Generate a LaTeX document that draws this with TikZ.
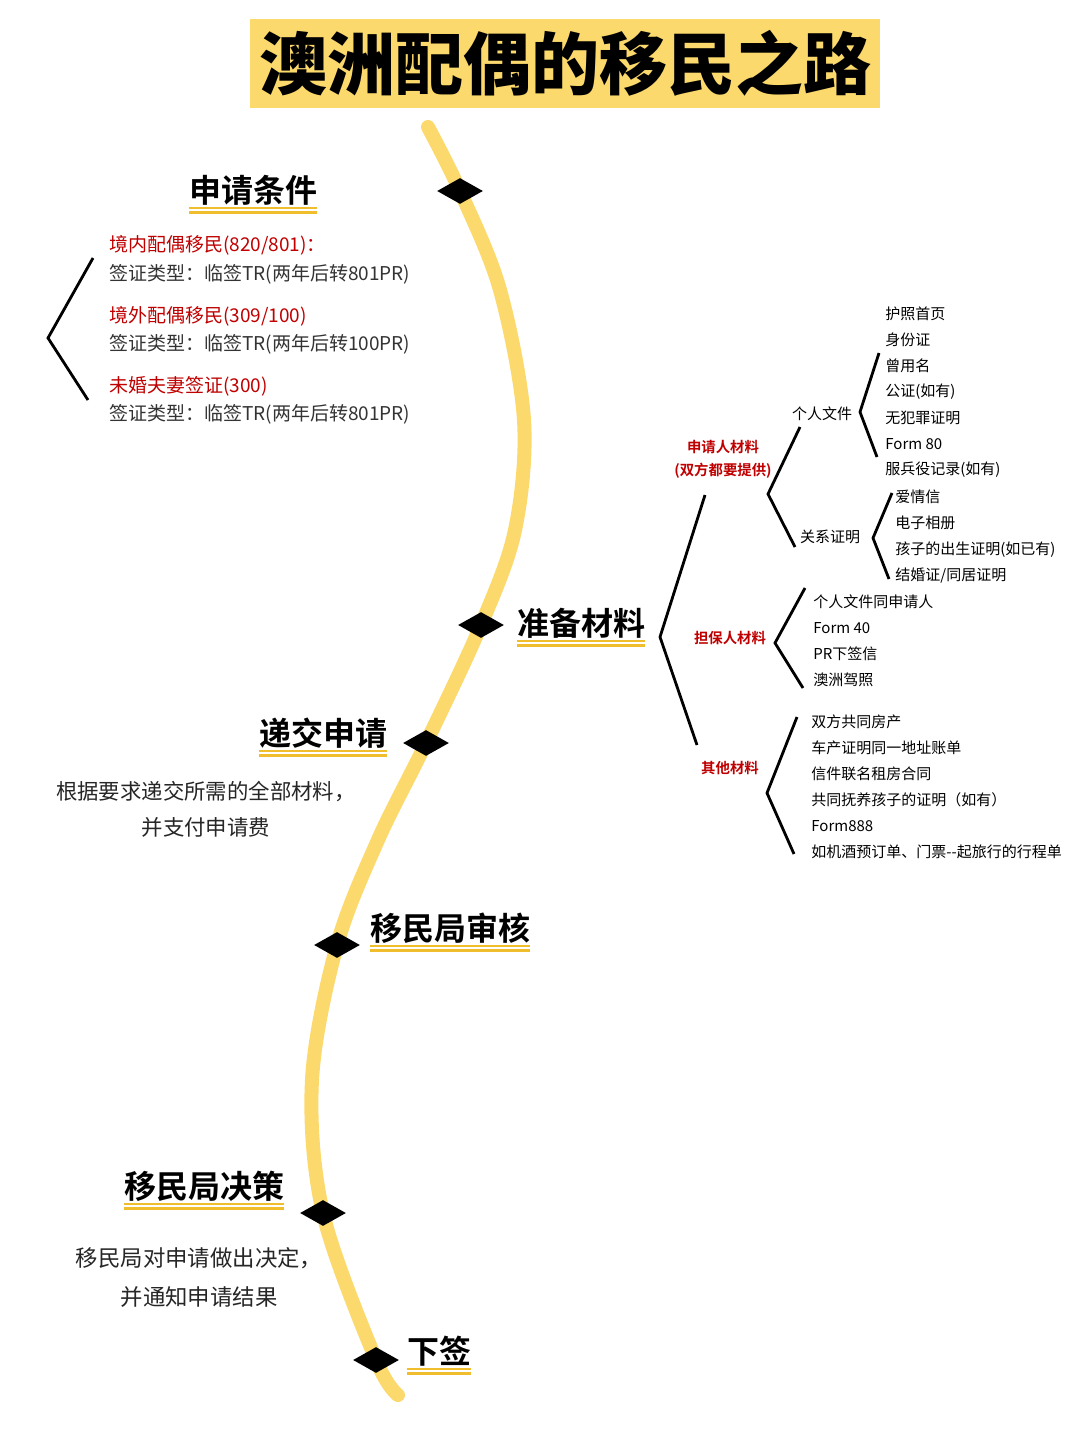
\documentclass[tikz,border=0pt]{standalone}
\usepackage{fontspec}
\setmainfont{Noto Sans CJK SC}[BoldFont={Noto Sans CJK SC Bold}]
\newfontfamily\titlefont{Noto Sans CJK SC Black}
\usepackage{tikz}
\usetikzlibrary{shapes.geometric,calc,positioning}
\definecolor{roadyel}{HTML}{FCD96C}
\definecolor{lineyel}{HTML}{F0BE2C}
\definecolor{visared}{HTML}{C00000}
\definecolor{txtgray}{HTML}{333333}

\begin{document}
\begin{tikzpicture}[x=0.5pt,y=-0.5pt,
    head/.style={font=\bfseries\fontsize{16}{16}\selectfont, inner sep=0pt},
    uline/.style={draw=lineyel, line width=1.2pt, double=white, double distance=1.1pt},
    dia/.style={diamond, fill=black, minimum width=23pt, minimum height=13pt, inner sep=0pt},
    brk/.style={line width=1.4pt},
    cond/.style={anchor=west, inner sep=0pt, text=visared, font=\fontsize{9.5}{9.5}\selectfont},
    visa/.style={anchor=west, inner sep=0pt, text=txtgray, font=\fontsize{9.5}{9.5}\selectfont},
    body/.style={align=center, inner sep=0pt, text=black!85},
    lab/.style={inner sep=0pt, text=visared, font=\bfseries\fontsize{7.2}{11.5}\selectfont, align=center},
    sub/.style={inner sep=0pt, font=\fontsize{7.5}{7.5}\selectfont},
    item/.style={anchor=west, inner sep=0pt, font=\fontsize{7.5}{7.5}\selectfont}]

    % page and title
    \useasboundingbox[fill=white] (0,0) rectangle (1080,1440);
    \node[fill=roadyel, minimum width=315pt, minimum height=44.5pt, inner sep=0pt,
          font=\titlefont\fontsize{34}{34}\selectfont] (TTL) at (565,63.5) {澳洲配偶的移民之路};

    % the road
    \coordinate (S) at (428,127);
    \coordinate (c1) at (460,191);
    \coordinate (p1) at (500,290);
    \coordinate (p2) at (524,420);
    \coordinate (p3) at (515,530);
    \coordinate (c2) at (481,625);
    \coordinate (c3) at (426,743);
    \coordinate (p4) at (378,840);
    \coordinate (c4) at (337,945);
    \coordinate (p5) at (312,1080);
    \coordinate (c5) at (323,1213);
    \coordinate (c6) at (376,1360);
    \coordinate (E) at (398,1395);
    \draw[roadyel, line width=7pt, line cap=round] plot[smooth, tension=0.55]
        coordinates {(S) (c1) (p1) (p2) (p3) (c2) (c3) (p4) (c4) (p5) (c5) (c6) (E)};

    % stations
    \node[dia] (D1) at (c1) {};
    \node[dia] (D2) at (c2) {};
    \node[dia] (D3) at (c3) {};
    \node[dia] (D4) at (c4) {};
    \node[dia] (D5) at (c5) {};
    \node[dia] (D6) at (c6) {};

    % headings
    \node[head] (SQTJ) at (253,190) {申请条件};
    \node[head] (ZBCL) at (581,623) {准备材料};
    \node[head] (DJSQ) at (323,733) {递交申请};
    \node[head] (YMSH) at (450,928) {移民局审核};
    \node[head] (YMJC) at (204,1186) {移民局决策};
    \node[head] (XQ) at (439,1351) {下签};
    \foreach \h in {SQTJ,ZBCL,DJSQ,YMSH,YMJC,XQ}
        \draw[uline] ($(\h.west)+(0,20)$) -- ($(\h.east)+(0,20)$);

    % conditions
    \node[cond] (C1) at (109,245) {境内配偶移民(820/801)：};
    \node[visa] (V1) at (109,274) {签证类型：临签TR(两年后转801PR)};
    \node[cond] (C2) at (109,316) {境外配偶移民(309/100)};
    \node[visa] (V2) at (109,344) {签证类型：临签TR(两年后转100PR)};
    \node[cond] (C3) at (109,386) {未婚夫妻签证(300)};
    \node[visa] (V3) at (109,414) {签证类型：临签TR(两年后转801PR)};
    \coordinate (b1t) at (93,258);
    \coordinate (b1v) at (48,338);
    \coordinate (b1b) at (88,400);
    \draw[brk] (b1t) -- (b1v) -- (b1b);

    % submit and decision notes
    \node[body, font=\fontsize{10.7}{18}\selectfont] (DJtxt) at (206,809)
        {根据要求递交所需的全部材料，\\并支付申请费};
    \node[body, font=\fontsize{11.2}{19.5}\selectfont] (JCtxt) at (199,1277)
        {移民局对申请做出决定，\\并通知申请结果};

    % materials tree
    \node[lab] (SQR) at (723,459) {申请人材料\\(双方都要提供)};
    \node[lab] (DBR) at (730,638) {担保人材料};
    \node[lab] (QT) at (730,768) {其他材料};
    \coordinate (b2t) at (705,495);
    \coordinate (b2v) at (660,637);
    \coordinate (b2b) at (697,745);
    \draw[brk] (b2t) -- (b2v) -- (b2b);

    \node[sub] (GRWJ) at (822,414) {个人文件};
    \node[sub] (GXZM) at (830,537) {关系证明};
    \coordinate (b3t) at (800,427);
    \coordinate (b3v) at (768,494);
    \coordinate (b3b) at (795,547);
    \draw[brk] (b3t) -- (b3v) -- (b3b);

    % personal documents
    \node[item] (P1) at (885,314) {护照首页};
    \node[item] (P2) at (885,340) {身份证};
    \node[item] (P3) at (885,366) {曾用名};
    \node[item] (P4) at (885,392) {公证(如有)};
    \node[item] (P5) at (885,418) {无犯罪证明};
    \node[item] (P6) at (885,444) {Form 80};
    \node[item] (P7) at (885,470) {服兵役记录(如有)};
    \coordinate (b4t) at (879,353);
    \coordinate (b4v) at (860,412);
    \coordinate (b4b) at (877,457);
    \draw[brk] (b4t) -- (b4v) -- (b4b);

    % relationship proof
    \node[item] (R1) at (895,497) {爱情信};
    \node[item] (R2) at (895,523) {电子相册};
    \node[item] (R3) at (895,550) {孩子的出生证明(如已有)};
    \node[item] (R4) at (895,576) {结婚证/同居证明};
    \coordinate (b5t) at (892,493);
    \coordinate (b5v) at (873,538);
    \coordinate (b5b) at (889,579);
    \draw[brk] (b5t) -- (b5v) -- (b5b);

    % sponsor
    \node[item] (G1) at (813,602) {个人文件同申请人};
    \node[item] (G2) at (813,628) {Form 40};
    \node[item] (G3) at (813,654) {PR下签信};
    \node[item] (G4) at (813,680) {澳洲驾照};
    \coordinate (b6t) at (805,588);
    \coordinate (b6v) at (775,643);
    \coordinate (b6b) at (803,688);
    \draw[brk] (b6t) -- (b6v) -- (b6b);

    % other
    \node[item] (O1) at (811,722) {双方共同房产};
    \node[item] (O2) at (811,748) {车产证明同一地址账单};
    \node[item] (O3) at (811,774) {信件联名租房合同};
    \node[item] (O4) at (811,800) {共同抚养孩子的证明（如有）};
    \node[item] (O5) at (811,826) {Form888};
    \node[item] (O6) at (811,852) {如机酒预订单、门票-{}-起旅行的行程单};
    \coordinate (b7t) at (797,717);
    \coordinate (b7v) at (767,793);
    \coordinate (b7b) at (794,854);
    \draw[brk] (b7t) -- (b7v) -- (b7b);
\end{tikzpicture}
\end{document}
